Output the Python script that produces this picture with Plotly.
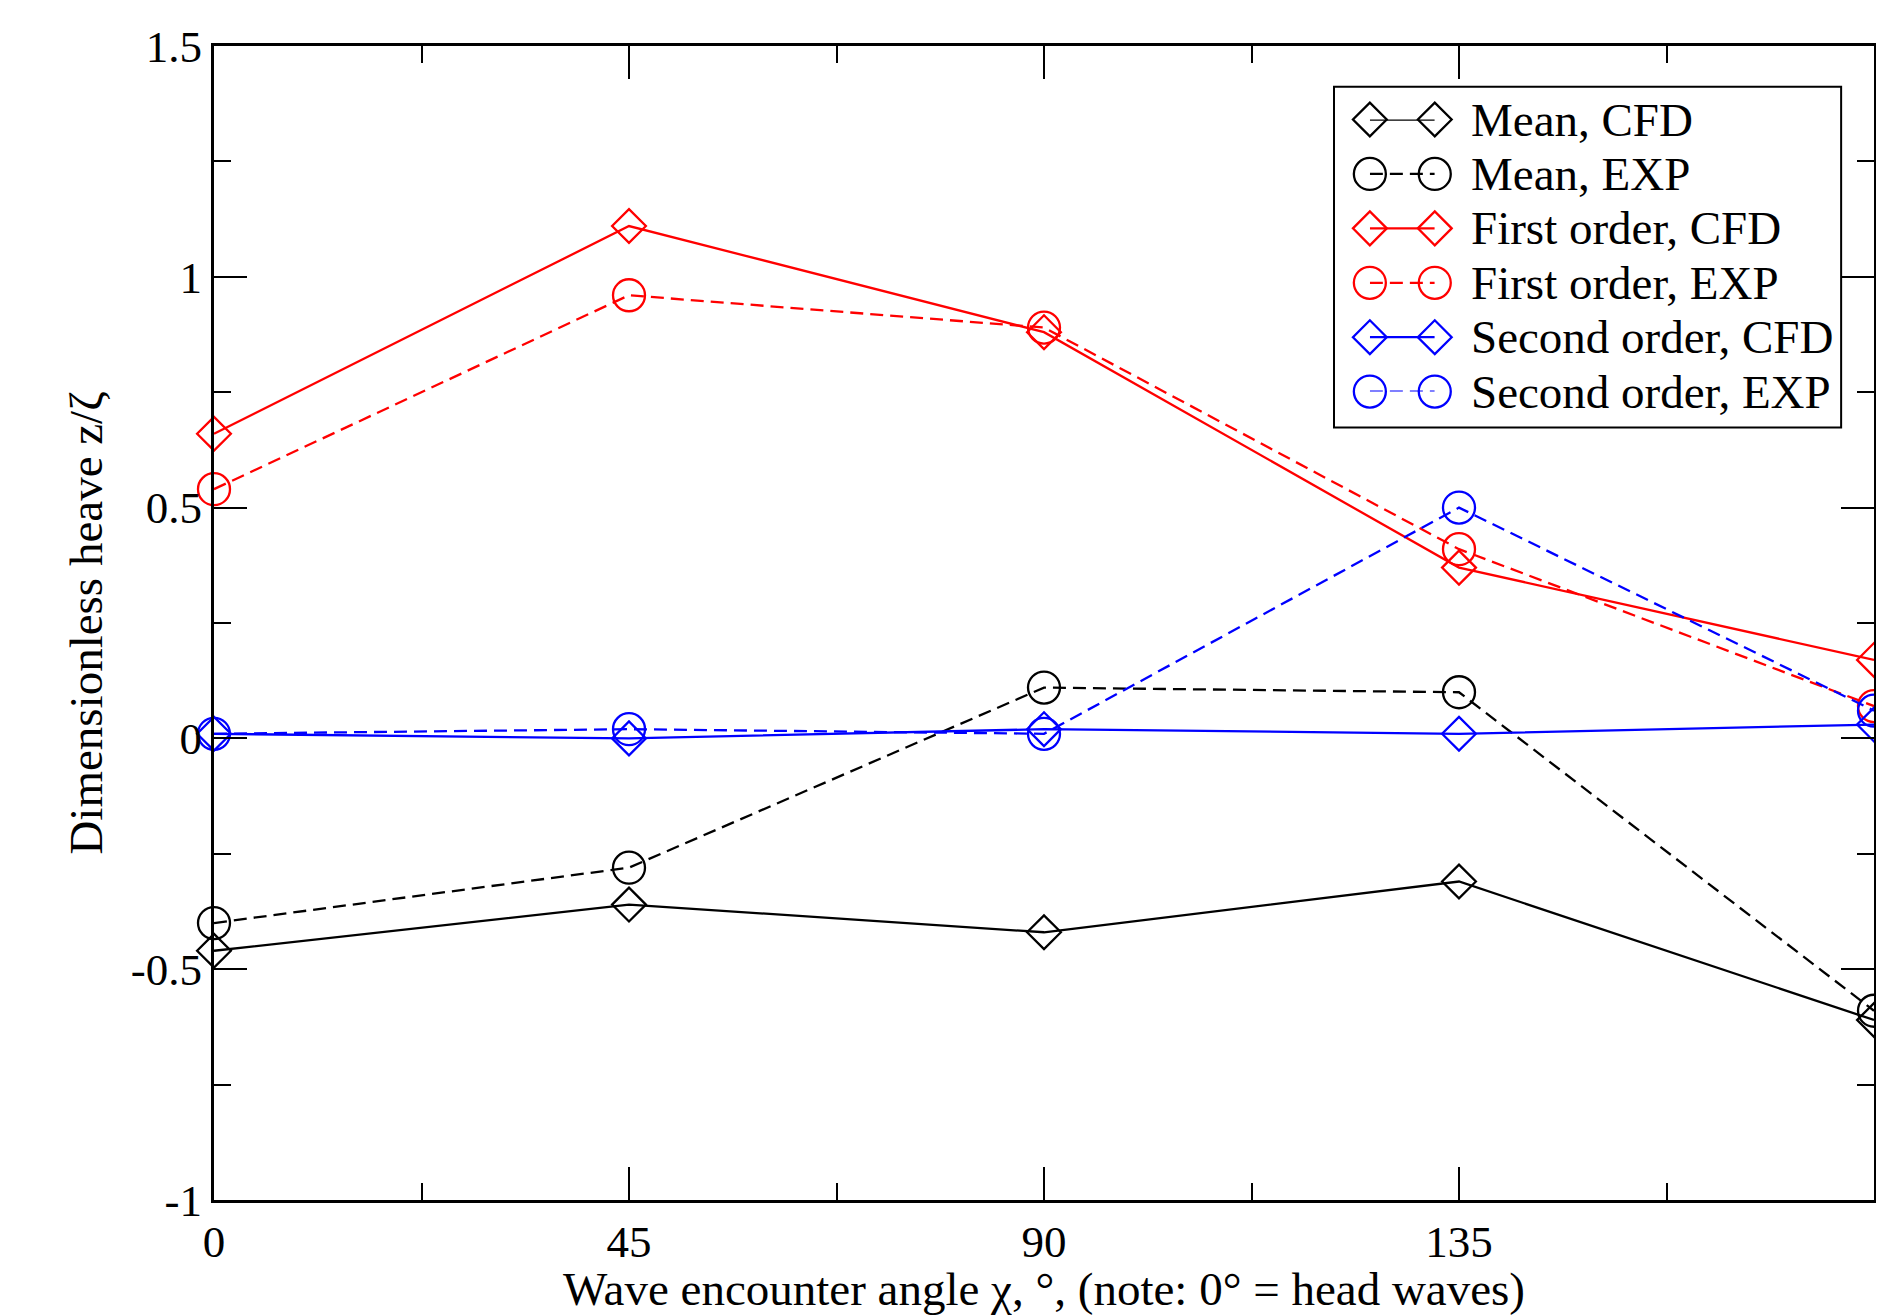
import plotly.graph_objects as go

# ---- data ----
angles = [0, 45, 90, 135, 180]
mean_cfd = [-0.46, -0.36, -0.42, -0.31, -0.61]
mean_exp = [-0.40, -0.28, 0.11, 0.10, -0.59]
first_cfd = [0.66, 1.11, 0.88, 0.37, 0.17]
first_exp = [0.54, 0.96, 0.89, 0.41, 0.07]
second_cfd = [0.01, 0.00, 0.02, 0.01, 0.03]
second_exp = [0.01, 0.02, 0.01, 0.50, 0.06]

series_names = ["Mean, CFD", "Mean, EXP", "First order, CFD",
                "First order, EXP", "Second order, CFD", "Second order, EXP"]
x_tick_vals = [0, 45, 90, 135, 180]
x_tick_text = ["0", "45", "90", "135", "180"]
y_tick_vals = [-1, -0.5, 0, 0.5, 1, 1.5]
y_tick_text = ["-1", "-0.5", "0", "0.5", "1", "1.5"]

x_title = "Wave encounter angle χ, °, (note: 0° = head waves)"
y_title = "Dimensionless heave z/ζ"

# ---- styles ----
FONT = "Liberation Serif"
FS_TICK = 45
FS_TEXT = 47
series_values = [mean_cfd, mean_exp, first_cfd, first_exp, second_cfd, second_exp]
colors = ["black", "black", "#ff0000", "#ff0000", "#0000ff", "#0000ff"]
symbols = ["diamond-open", "circle-open"] * 3
sizes = [26, 32] * 3
dashes = ["solid", "13px,7px"] * 3
LW = 2.3

fig = go.Figure()

for name, vals, c, s, sz, d in zip(series_names, series_values, colors, symbols, sizes, dashes):
    fig.add_trace(go.Scatter(
        x=angles, y=vals, name=name, mode="lines+markers",
        line=dict(color=c, width=LW, dash=d),
        marker=dict(symbol=s, size=sz, color=c, line=dict(color=c, width=LW)),
        cliponaxis=False, showlegend=False,
    ))

# custom legend samples (two markers joined by a line), drawn on a hidden overlay axis
for i, (name, c, s, sz, d) in enumerate(zip(series_names, colors, symbols, sizes, dashes)):
    fig.add_trace(go.Scatter(
        x=[0, 1], y=[i, i], mode="lines+markers", xaxis="x2", yaxis="y2",
        line=dict(color=c, width=LW, dash=d),
        marker=dict(symbol=s, size=sz, color=c, line=dict(color=c, width=LW)),
        cliponaxis=False, showlegend=False, hoverinfo="skip",
    ))
    fig.add_annotation(text=name, x=0.7559, xref="paper", xanchor="left",
                       y=i, yref="y2", yanchor="middle", showarrow=False,
                       font=dict(family=FONT, size=FS_TEXT, color="black"))

fig.add_shape(type="rect", xref="paper", yref="paper",
              x0=0.6747, x1=0.9802, y0=0.6695, y1=0.9647,
              line=dict(color="black", width=2), fillcolor="white", layer="below")

axis_common = dict(
    showline=True, linewidth=3, linecolor="black", mirror="ticks",
    ticks="inside", tickwidth=2, tickcolor="black", ticklen=33,
    showgrid=False, zeroline=False,
    tickfont=dict(family=FONT, size=FS_TICK, color="black"),
)

fig.update_layout(
    width=1876, height=1307,
    margin=dict(l=206, r=7, t=38, b=107),
    paper_bgcolor="white", plot_bgcolor="rgba(0,0,0,0)",
    showlegend=False,
    font=dict(family=FONT, size=FS_TEXT, color="black"),
    xaxis=dict(
        range=[0, 180], tickmode="array", tickvals=x_tick_vals, ticktext=x_tick_text,
        minor=dict(dtick=22.5, tick0=0, ticks="inside", ticklen=17, tickwidth=2,
                   tickcolor="black", showgrid=False),
        title=dict(text=x_title, font=dict(family=FONT, size=FS_TEXT), standoff=8),
        **axis_common,
    ),
    yaxis=dict(
        range=[-1, 1.5], tickmode="array", tickvals=y_tick_vals, ticktext=y_tick_text,
        minor=dict(dtick=0.25, tick0=0, ticks="inside", ticklen=17, tickwidth=2,
                   tickcolor="black", showgrid=False),
        title=dict(text=y_title, font=dict(family=FONT, size=FS_TEXT), standoff=14),
        **axis_common,
    ),
    xaxis2=dict(domain=[0.6963, 0.7354], range=[0, 1], visible=False,
                anchor="y2", fixedrange=True),
    yaxis2=dict(domain=[0.7005, 0.9363], range=[5, 0], visible=False,
                anchor="x2", fixedrange=True),
)

fig.write_html("out.html")
